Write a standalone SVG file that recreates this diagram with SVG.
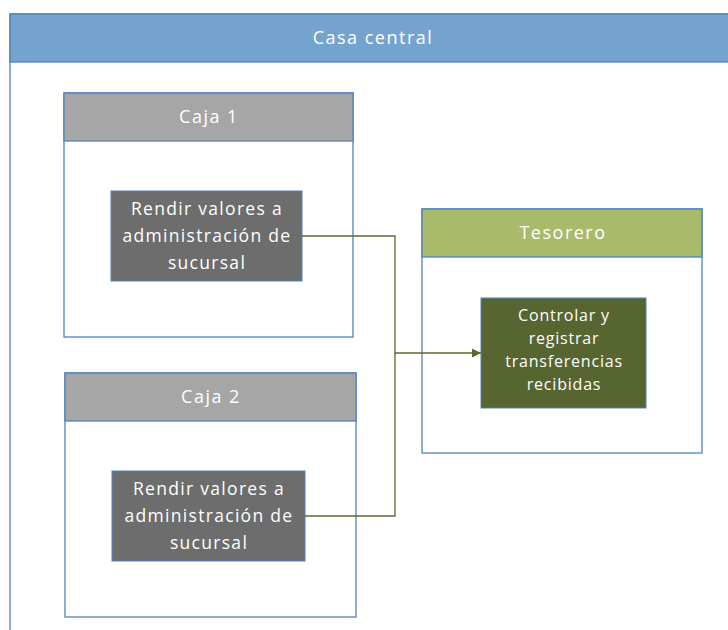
<svg xmlns="http://www.w3.org/2000/svg" width="728" height="630" viewBox="0 0 728 630">
<defs>
<style>
.frame{fill:#fff;stroke:#4f81bd;stroke-width:1.3}
.hd{stroke:#4f81bd;stroke-width:1.3}
.t{font-family:"Open Sans","Liberation Sans",sans-serif;fill:#fff;text-anchor:middle}
.h{font-size:18px;letter-spacing:1.5px}
.b{font-size:17.5px;letter-spacing:1.3px}
.g{font-size:16px;letter-spacing:0.8px}
.conn{fill:none;stroke:#5a6b2c;stroke-width:1.3}
</style>
<marker id="arr" viewBox="0 0 10 10" refX="10" refY="5" markerWidth="9" markerHeight="9" markerUnits="userSpaceOnUse" orient="auto">
<path d="M0,0 L10,5 L0,10 z" fill="#5a6b2c"/>
</marker>
</defs>
<rect width="728" height="630" fill="#fff"/>
<g id="casa-central">
<rect class="frame" x="10" y="14" width="730" height="630"/>
<rect class="hd" x="10" y="14" width="730" height="48" fill="#75a3cf"/>
<text class="t h" x="373" y="44">Casa central</text>
</g>
<g id="caja1">
<rect class="frame" x="64" y="93" width="289" height="244"/>
<rect class="hd" x="64" y="93" width="289" height="48" fill="#a6a6a6"/>
<text class="t h" x="209" y="123">Caja 1</text>
</g>
<g id="task1">
<rect x="111" y="191" width="191" height="90" fill="#6d6d6d" stroke="#4f81bd" stroke-width="1"/>
<text class="t b" x="207" y="215">Rendir valores a</text>
<text class="t b" x="207" y="242">administración de</text>
<text class="t b" x="207" y="269">sucursal</text>
</g>
<g id="caja2">
<rect class="frame" x="65" y="373" width="291" height="244"/>
<rect class="hd" x="65" y="373" width="291" height="48" fill="#a6a6a6"/>
<text class="t h" x="211" y="403">Caja 2</text>
</g>
<g id="task2">
<rect x="112" y="471" width="193" height="90" fill="#6d6d6d" stroke="#4f81bd" stroke-width="1"/>
<text class="t b" x="209" y="495">Rendir valores a</text>
<text class="t b" x="209" y="522">administración de</text>
<text class="t b" x="209" y="549">sucursal</text>
</g>
<g id="tesorero">
<rect class="frame" x="422" y="209" width="280" height="244"/>
<rect class="hd" x="422" y="209" width="280" height="48" fill="#a9ba6b"/>
<text class="t h" x="563" y="239">Tesorero</text>
</g>
<g id="task3">
<rect x="481" y="298" width="165" height="110" fill="#576530" stroke="#4f81bd" stroke-width="1"/>
<text class="t g" x="564" y="321">Controlar y</text>
<text class="t g" x="564" y="344">registrar</text>
<text class="t g" x="564" y="367">transferencias</text>
<text class="t g" x="564" y="390">recibidas</text>
</g>
<g id="connectors">
<polyline class="conn" points="302,236 395,236 395,353 481,353" marker-end="url(#arr)"/>
<polyline class="conn" points="305,516 395,516 395,353"/>
</g>
</svg>
